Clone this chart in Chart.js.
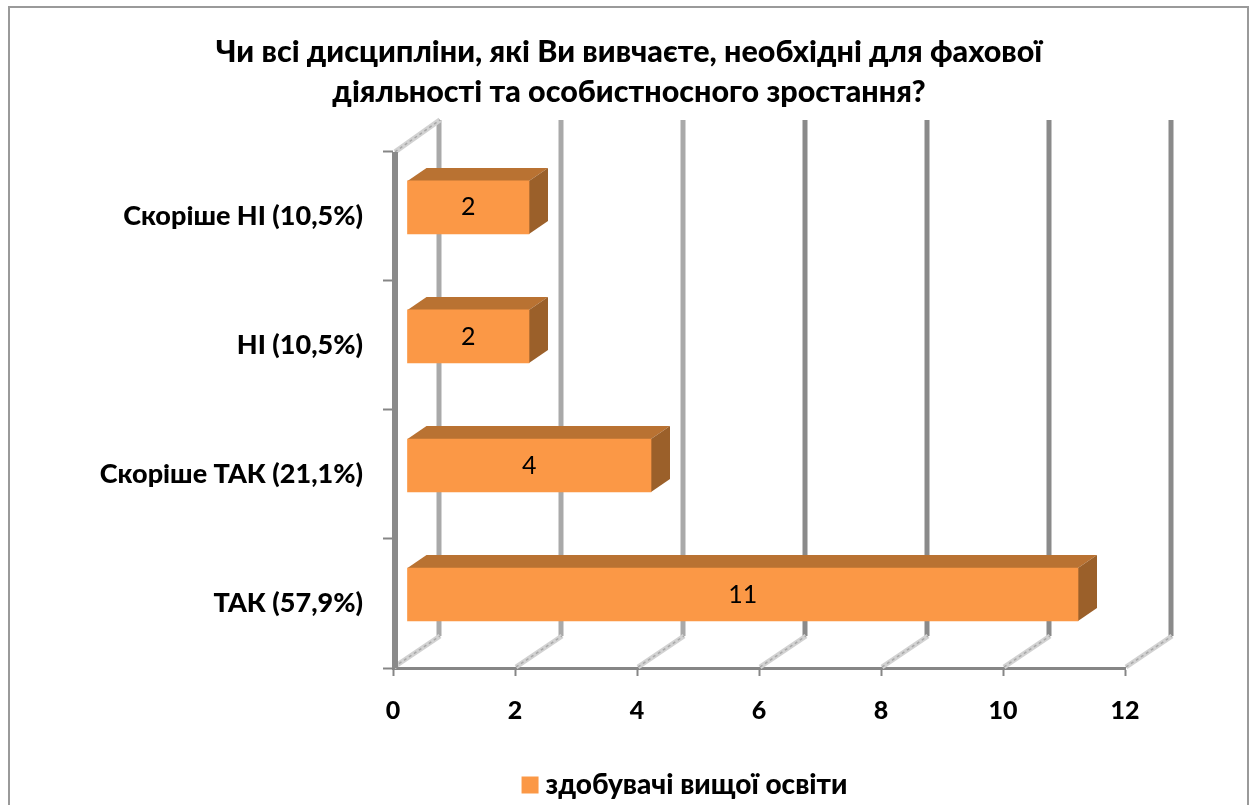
<!DOCTYPE html>
<html>
<head>
<meta charset="utf-8">
<style>html,body{margin:0;padding:0;background:#fff;overflow:hidden}canvas{display:block}</style>
<script src="https://cdn.jsdelivr.net/npm/chart.js@4/dist/chart.umd.min.js"></script>
</head>
<body>
<canvas id="c" width="1253" height="805"></canvas>
<script>
const titleLines = ["Чи всі дисципліни, які Ви вивчаєте, необхідні для фахової", "діяльності та особистносного зростання?"];
const categories = ["Скоріше НІ (10,5%)", "НІ (10,5%)", "Скоріше ТАК (21,1%)", "ТАК (57,9%)"];
const values = [2, 2, 4, 11];
const seriesName = "здобувачі вищої освіти";
const axisMin = 0, axisMax = 12, axisStep = 2;

const FONT = '"Lato","Open Sans",sans-serif';
const DX = 45, DY = -32, BAR_DX = 14, BAR_DY = -9, SIDE_DX = 19, SIDE_DY = -13;

function wallLine(ctx, x1, y1, x2, y2, w, col) {
  ctx.strokeStyle = col; ctx.lineWidth = w; ctx.beginPath(); ctx.moveTo(x1, y1); ctx.lineTo(x2, y2); ctx.stroke();
}
const plugin3d = {
  id: 'plugin3d',
  afterLayout(chart) {
    const lg = chart.legend;
    lg.left += 171;
    lg.top += 4;
    lg.adjustHitBoxes();
    chart.titleBlock.left += 53;
  },
  beforeDraw(chart) {
    const ctx = chart.ctx;
    ctx.save();
    ctx.fillStyle = '#fff'; ctx.fillRect(0, 0, chart.width, chart.height);
    ctx.strokeStyle = '#9a9a9a'; ctx.lineWidth = 2;
    ctx.strokeRect(9, 7, 1239, 900);
    ctx.restore();
  },
  beforeDatasetsDraw(chart) {
    const ctx = chart.ctx, xs = chart.scales.x, a = chart.chartArea;
    ctx.save();
    ctx.lineCap = 'butt';
    xs.ticks.forEach((t, i) => {
      const fx = xs.getPixelForValue(t.value) + 1, bx = fx + DX;
      wallLine(ctx, bx, a.top + DY, bx, a.bottom + DY, 5, i < 3 ? '#a9a9a9' : '#8a8a8a');
      wallLine(ctx, fx, a.bottom - 1, bx + 1, a.bottom + DY, 5, '#d2d2d2');
      ctx.setLineDash([3, 3]);
      wallLine(ctx, fx, a.bottom - 1, bx + 1, a.bottom + DY, 1.5, '#a8a8a8');
      ctx.setLineDash([]);
    });
    const x0 = xs.getPixelForValue(0) + 2;
    wallLine(ctx, x0, a.top, x0 + DX, a.top + DY, 5, '#d2d2d2');
    ctx.setLineDash([3, 3]);
    wallLine(ctx, x0, a.top, x0 + DX, a.top + DY, 1.5, '#a8a8a8');
    ctx.setLineDash([]);
    wallLine(ctx, x0, a.top, x0, a.bottom, 6, '#8a8a8a');

    chart.getDatasetMeta(0).data.forEach(b => {
      const L = b.base + BAR_DX, R = b.x + BAR_DX, T = b.y - b.height / 2 + BAR_DY, B = b.y + b.height / 2 + BAR_DY;
      ctx.fillStyle = '#b97232';
      ctx.beginPath(); ctx.moveTo(L, T); ctx.lineTo(L + SIDE_DX, T + SIDE_DY); ctx.lineTo(R + SIDE_DX, T + SIDE_DY); ctx.lineTo(R, T); ctx.closePath(); ctx.fill();
      ctx.fillStyle = '#9b602a';
      ctx.beginPath(); ctx.moveTo(R, T); ctx.lineTo(R + SIDE_DX, T + SIDE_DY); ctx.lineTo(R + SIDE_DX, B + SIDE_DY); ctx.lineTo(R, B); ctx.closePath(); ctx.fill();
    });
    ctx.restore();
    ctx.save();
    ctx.translate(BAR_DX, BAR_DY);
  },
  afterDatasetsDraw(chart) {
    const ctx = chart.ctx;
    ctx.restore();
    ctx.save();
    ctx.fillStyle = '#000';
    ctx.font = '25px ' + FONT;
    ctx.textAlign = 'center'; ctx.textBaseline = 'middle';
    chart.getDatasetMeta(0).data.forEach((b, i) => {
      ctx.fillText(String(values[i]), (b.base + b.x) / 2 + BAR_DX, b.y + BAR_DY);
    });
    ctx.restore();
  }
};

new Chart(document.getElementById('c'), {
  type: 'bar',
  data: { labels: categories, datasets: [{ label: seriesName, data: values, backgroundColor: '#fb9846', borderWidth: 0, barThickness: 53, clip: false }] },
  plugins: [plugin3d],
  options: {
    indexAxis: 'y', responsive: false, animation: false,
    layout: { padding: { left: 80, right: 128, top: 32, bottom: 0 } },
    plugins: {
      title: { display: true, text: titleLines, color: '#000', font: { family: FONT, size: 30.5, weight: '900', lineHeight: 1.31 }, padding: { top: 0, bottom: 40 } },
      legend: { display: true, position: 'bottom', labels: { color: '#000', font: { family: FONT, size: 28, weight: '900' }, usePointStyle: true, pointStyle: 'rect', boxWidth: 3, boxHeight: 17, padding: 7 } },
      tooltip: { enabled: false }
    },
    scales: {
      x: {
        type: 'linear', min: axisMin, max: axisMax,
        ticks: { stepSize: axisStep, color: '#000', font: { family: FONT, size: 25, weight: '900' }, padding: 20 },
        grid: { drawOnChartArea: false, drawTicks: true, tickLength: 8, tickWidth: 2, tickColor: '#868686' },
        border: { display: true, color: '#868686', width: 3 },
        afterFit(s) { s.height = 92; }
      },
      y: {
        type: 'category',
        ticks: { color: '#000', font: { family: FONT, size: 27, weight: '900' }, padding: 20 },
        grid: { drawOnChartArea: false, drawTicks: true, tickLength: 10, tickWidth: 2, tickColor: '#868686' },
        border: { display: false },
        afterFit(s) { s.width = 313; }
      }
    }
  }
});
</script>
</body>
</html>
